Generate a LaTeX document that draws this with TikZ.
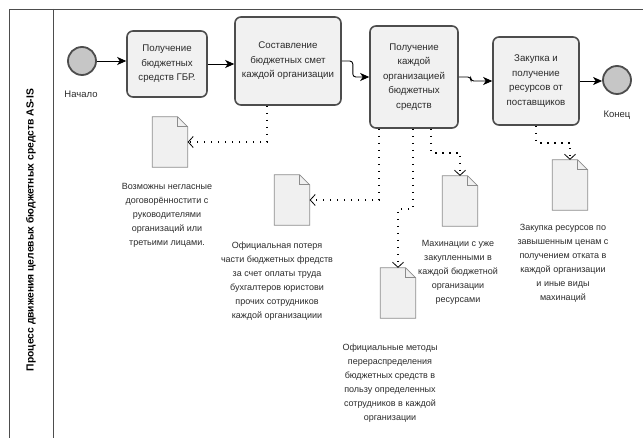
\documentclass[tikz,border=0pt]{standalone}
\usepackage{fontspec}
\setmainfont{Liberation Sans}
\usepackage{tikz}
\usetikzlibrary{positioning}
\usetikzlibrary{arrows.meta}
\usetikzlibrary{calc}

\definecolor{taskfill}{HTML}{F1F1F1}
\definecolor{taskline}{HTML}{4D4D4D}
\definecolor{evfill}{HTML}{C6C6C6}
\definecolor{docfill}{HTML}{F0F0F0}
\definecolor{docline}{HTML}{8C8C8C}
\definecolor{txt}{HTML}{2B2B2B}

\newcommand{\paperdoc}[1]{%
\draw[docline,fill=docfill,line width=0.8pt](#1.south west)--(#1.north west)--([xshift=-10pt]#1.north east)--([yshift=-10pt]#1.north east)--(#1.south east)--cycle;
\draw[docline,line width=0.6pt]([xshift=-10pt]#1.north east)--([xshift=-10pt,yshift=-10pt]#1.north east)--([yshift=-10pt]#1.north east);}

\begin{document}
\begin{tikzpicture}[x=1pt,y=-1pt,
task/.style={draw=taskline,fill=taskfill,line width=1.6pt,rounded corners=6pt,align=center,text=txt,font=\fontsize{9.7}{14.5}\selectfont},
event/.style={circle,draw=taskline,fill=evfill,line width=1.8pt,minimum size=28pt,inner sep=0pt},
paper/.style={minimum width=35pt,minimum height=50pt,inner sep=0pt},
note/.style={align=center,text=txt,font=\fontsize{9}{14}\selectfont},
flow/.style={black,line width=0.9pt,-{Stealth[length=9pt,width=8pt,inset=2.5pt]},rounded corners=3pt},
assoc/.style={black,line width=1.5pt,dash pattern=on 1.5pt off 5.5pt,-{Straight Barb[length=5pt,width=11pt,line width=0.8pt]}}]
\useasboundingbox(0,0)rectangle(643,438);

\draw[taskline,line width=0.9pt](9,438)--(9,9)--(643,9);
\draw[taskline,line width=0.9pt](53,9)--(53,438);
\node[rotate=90,font=\bfseries\fontsize{10.3}{12}\selectfont](lane)at(31,230){Процесс движения целевых бюджетных средств AS-IS};

\node[event](start)at(82,61){};
\node[note,font=\fontsize{9.5}{12}\selectfont](startlbl)at(81,94){Начало};
\node[task,minimum width=80pt,minimum height=66pt](t1)at(167,64){Получение\\бюджетных\\средств ГБР.};
\node[task,minimum width=106pt,minimum height=88pt](t2)at(288,61){Составление\\бюджетных смет\\каждой организации};
\node[task,minimum width=88pt,minimum height=102pt](t3)at(414,77){Получение\\каждой\\организацией\\бюджетных\\средств};
\node[task,minimum width=86pt,minimum height=88pt](t4)at(536,81){Закупка и\\получение\\ресурсов от\\поставщиков};
\node[event](stop)at(617,80){};
\node[note,font=\fontsize{9.5}{12}\selectfont](stoplbl)at(617,115){Конец};

\node[paper](d1)at(170,142){};
\node[paper](d2)at(292,200){};
\node[paper](d3)at(398,293){};
\node[paper](d4)at(460,201){};
\node[paper](d5)at(570,185){};
\paperdoc{d1}
\paperdoc{d2}
\paperdoc{d3}
\paperdoc{d4}
\paperdoc{d5}

\node[note](n1)at(167,215){Возможны негласные\\договорённостити с\\руководителями\\организаций или\\третьими лицами.};
\node[note](n2)at(277,281){Официальная потеря\\части бюджетных фредств\\за счет оплаты труда\\бухгалтеров юристови\\прочих сотрудников\\каждой организациии};
\node[note](n3)at(390,383){Официальные методы\\перераспределения\\бюджетных средств в\\пользу определенных\\сотрудников в каждой\\организации};
\node[note](n4)at(458,272){Махинации с уже\\закупленными в\\каждой бюджетной\\организации\\ресурсами};
\node[note](n5)at(563,263){Закупка ресурсов по\\завышенным ценам с\\получением отката в\\каждой организации\\и иные виды\\махинаций};

\draw[flow](start)--(start-|t1.west);
\draw[flow](t1.east)--(t1.east-|t2.west);
\draw[flow](t2.east)--++(11,0)|-(t3.west);
\draw[flow](t3.east)--++(12,0)|-(t4.west);
\draw[flow](t4.east)--(t4.east-|stop.west);

\draw[assoc]([xshift=-21pt]t2.south)|-(d1.east);
\draw[assoc]([xshift=-35pt]t3.south)|-(d2.east);
\draw[assoc]([xshift=-1pt]t3.south)--++(0,80)-|(d3.north);
\draw[assoc]([xshift=17pt]t3.south)--++(0,24)-|(d4.north);
\draw[assoc](t4.south)--++(0,17)-|(d5.north);

\end{tikzpicture}
\end{document}
